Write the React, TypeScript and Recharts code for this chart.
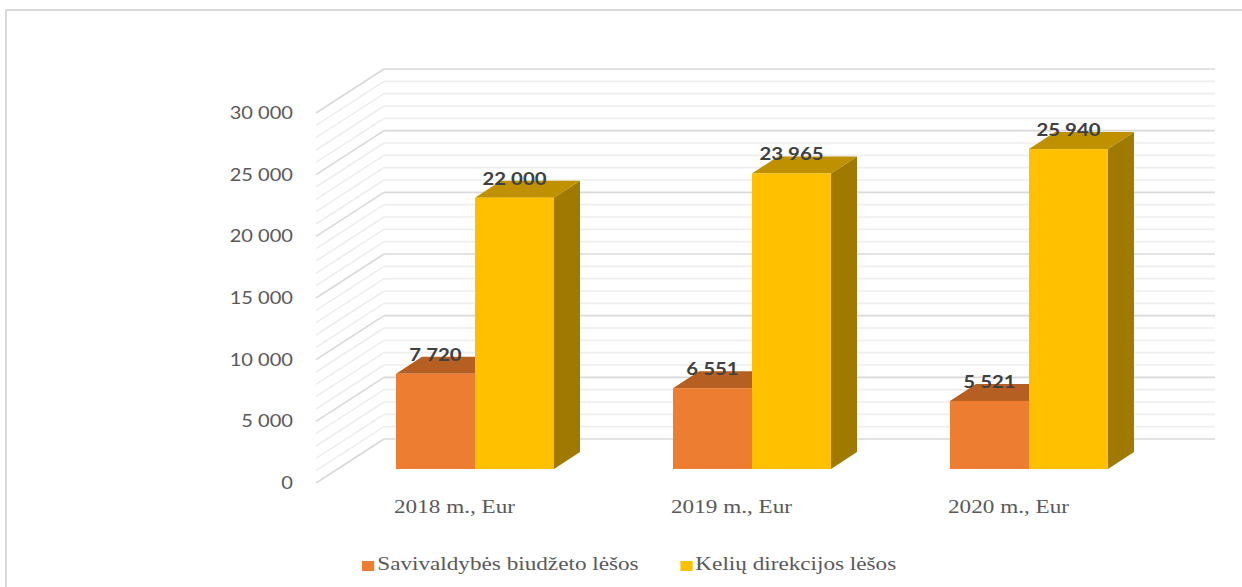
import React from 'react';
import { BarChart, Bar, XAxis, YAxis, CartesianGrid, LabelList, Legend } from 'recharts';

// duomenys
const years = ['2018 m., Eur', '2019 m., Eur', '2020 m., Eur'];
const savivaldybesLesos = [7720, 6551, 5521];
const keliuDirekcijosLesos = [22000, 23965, 25940];
const gridTicks = [
  0, 1000, 2000, 3000, 4000, 5000, 6000, 7000, 8000, 9000, 10000,
  11000, 12000, 13000, 14000, 15000, 16000, 17000, 18000, 19000, 20000,
  21000, 22000, 23000, 24000, 25000, 26000, 27000, 28000, 29000, 30000,
];
const labelledTicks = [0, 5000, 10000, 15000, 20000, 25000, 30000];

const series = [
  { key: 'sav', name: 'Savivaldybės biudžeto lėšos', front: '#ED7D31', top: '#B65F22', side: '#A3531C' },
  { key: 'kel', name: 'Kelių direkcijos lėšos', front: '#FFC000', top: '#BF9000', side: '#A07900' },
];

const data = years.map((year, i) => ({
  year,
  sav: savivaldybesLesos[i],
  kel: keliuDirekcijosLesos[i],
}));

const W = 1242;
const H = 587;
const PLOT_TOP = 113;
const PLOT_H = 370;
const BACK_DX = 68; // galinė siena
const BACK_DY = -44;
const BAR_DX = 20; // stulpeliai pastumti į gylį
const BAR_DY = -14;
const DEPTH_DX = 26;
const DEPTH_DY = -17;
const STRETCH = 1.22;

const fmt = (v: number) => String(v).replace(/\B(?=(\d{3})+(?!\d))/g, ' ');

const box = (front: string, top: string, side: string) => (props: any) => {
  const { x, y, width: w, height: h } = props;
  if (w == null || h == null) return <g />;
  const fx = x + BAR_DX;
  const fy = y + BAR_DY;
  return (
    <g>
      <polygon
        points={`${fx + w},${fy} ${fx + w + DEPTH_DX},${fy + DEPTH_DY} ${fx + w + DEPTH_DX},${fy + h + DEPTH_DY} ${fx + w},${fy + h}`}
        fill={side}
      />
      <polygon
        points={`${fx},${fy} ${fx + w},${fy} ${fx + w + DEPTH_DX},${fy + DEPTH_DY} ${fx + DEPTH_DX},${fy + DEPTH_DY}`}
        fill={top}
      />
      <rect x={fx} y={fy} width={w} height={h} fill={front} />
    </g>
  );
};

const renderGridLine = (p: any) => {
  const { x1, x2, y1 } = p;
  const step = Math.round((y1 - PLOT_TOP) / (PLOT_H / 30));
  const major = step % 5 === 0;
  const stroke = major ? '#D9D9D9' : '#EEEEEE';
  const by = y1 + BACK_DY;
  return (
    <g key={p.key ?? `gl-${y1}`}>
      <line x1={x1} y1={y1} x2={x1 + BACK_DX} y2={by} stroke={stroke} strokeWidth={1.6} />
      <line x1={x1 + BACK_DX} y1={by} x2={x2 + BACK_DX} y2={by} stroke={stroke} strokeWidth={1.6} />
    </g>
  );
};

const renderYTick = (p: any) => {
  const v = p.payload.value;
  if (!labelledTicks.includes(v)) return <g />;
  return (
    <text
      transform={`translate(${p.x},${p.y}) scale(1.18,1)`}
      dy="0.36em"
      textAnchor="end"
      fontFamily="Lato"
      fontSize={17}
      fill="#595959"
    >
      {fmt(v)}
    </text>
  );
};

const renderXTick = (p: any) => (
  <text
    transform={`translate(${p.x},${p.y + 30}) scale(${STRETCH},1)`}
    textAnchor="middle"
    fontFamily="Liberation Serif"
    fontSize={19}
    fill="#595959"
  >
    {p.payload.value}
  </text>
);

const renderValueLabel = (p: any) => {
  const vb = p.viewBox || {};
  const x = p.x ?? vb.x;
  const y = p.y ?? vb.y;
  const w = p.width ?? vb.width;
  return (
    <text
      transform={`translate(${x + w / 2 + BAR_DX},${y + BAR_DY - 13}) scale(1.2,1)`}
      textAnchor="middle"
      fontFamily="Lato"
      fontWeight={700}
      fontSize={17}
      fill="#404040"
    >
      {fmt(p.value)}
    </text>
  );
};

const renderLegend = () => (
  <div
    style={{
      display: 'flex',
      alignItems: 'center',
      transform: `scaleX(${STRETCH})`,
      transformOrigin: '0 0',
      fontFamily: '"Liberation Serif"',
      fontSize: 19,
      lineHeight: '22px',
      color: '#595959',
      whiteSpace: 'nowrap',
    }}
  >
    {series.map((s, i) => (
      <div key={s.key} style={{ display: 'flex', alignItems: 'center', marginRight: i === 0 ? 34 : 0 }}>
        <span style={{ display: 'inline-block', width: 10, height: 10, background: s.front, marginRight: 2.5, marginTop: 3 }} />
        <span>{s.name}</span>
      </div>
    ))}
  </div>
);

export default function App() {
  return (
    <div style={{ position: 'absolute', left: 0, top: 0, width: W, height: H, overflow: 'hidden', background: '#fff' }}>
      <div
        style={{
          position: 'absolute',
          left: 5,
          top: 9,
          width: 1400,
          height: 700,
          border: '2px solid #D9D9D9',
          boxSizing: 'border-box',
        }}
      />
      <div style={{ position: 'absolute', left: 0, top: 0 }}>
        <BarChart
          width={W}
          height={H}
          data={data}
          margin={{ top: PLOT_TOP, right: 95, bottom: 74, left: 236 }}
          barGap={0}
          barSize={79}
        >
          <CartesianGrid vertical={false} horizontal={renderGridLine} />
          <XAxis
            dataKey="year"
            axisLine={false}
            tickLine={false}
            tickSize={0}
            tickMargin={0}
            height={30}
            interval={0}
            tick={renderXTick}
          />
          <YAxis
            type="number"
            domain={[0, 30000]}
            ticks={gridTicks}
            interval={0}
            width={80}
            axisLine={false}
            tickLine={false}
            tickSize={0}
            tickMargin={23}
            tick={renderYTick}
          />
          <Legend
            layout="horizontal"
            verticalAlign="middle"
            align="center"
            content={renderLegend}
            wrapperStyle={{ left: 362, top: 553, width: 'auto', height: 'auto' }}
          />
          {series.map((s) => (
            <Bar
              key={s.key}
              dataKey={s.key}
              name={s.name}
              fill={s.front}
              shape={box(s.front, s.top, s.side)}
              isAnimationActive={false}
            >
              <LabelList dataKey={s.key} content={renderValueLabel} />
            </Bar>
          ))}
        </BarChart>
      </div>
    </div>
  );
}
